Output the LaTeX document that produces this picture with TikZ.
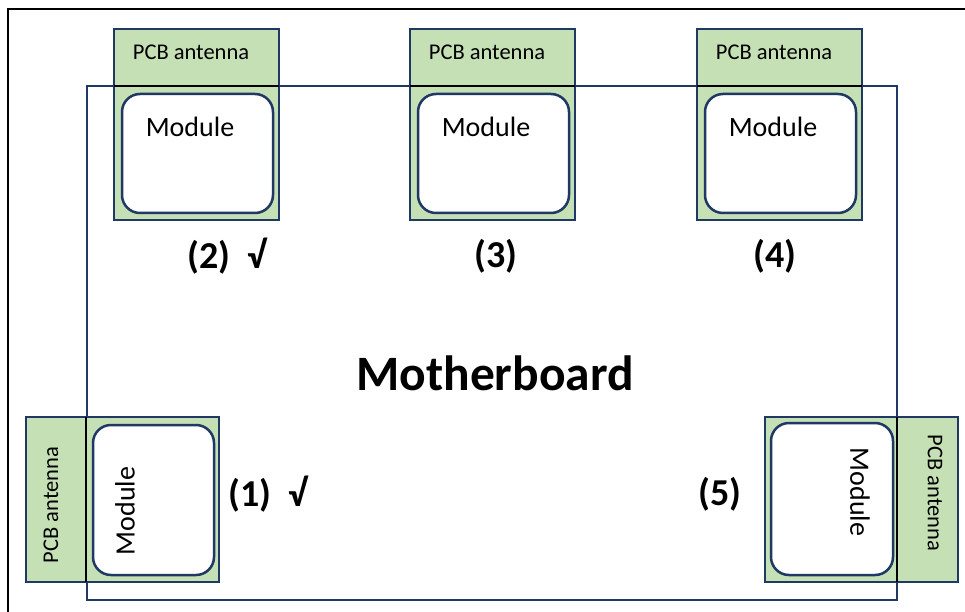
\documentclass[tikz,border=0pt]{standalone}
\usepackage{fontspec}
\setmainfont{Carlito}
\definecolor{antgreen}{HTML}{C5E0B4}
\definecolor{boardblue}{HTML}{1F3864}

\begin{document}
\begin{tikzpicture}[x=1pt,y=-1pt,
    antenna/.style={draw=boardblue,line width=2.5pt,fill=antgreen},
    modbox/.style={draw=boardblue,line width=2.5pt,fill=white,rounded corners=18pt},
    antlabel/.style={font=\fontsize{22.5}{25}\selectfont,inner sep=0pt},
    modlabel/.style={font=\fontsize{28}{32}\selectfont,inner sep=0pt},
    poslabel/.style={font=\bfseries\fontsize{38}{40}\selectfont,inner sep=0pt}]
    \useasboundingbox (0,0) rectangle (965,612);
    \draw[line width=2pt] (8,612) |- (965,9);
    % motherboard
    \draw[boardblue,line width=2.5pt] (87,86) rectangle (897,600);
    \node[font=\bfseries\fontsize{49.5}{52}\selectfont,inner sep=0pt] (board) at (495,373) {Motherboard};
    % modules on the top edge
    \foreach \x/\n/\lx/\lab in {114/2/227/{(2)\ \ √}, 410/3/496/{(3)}, 697/4/775/{(4)}}{
      \draw[antenna] (\x,29) rectangle (\x+165,220);
      \draw[modbox] (\x+8,94) rectangle (\x+159,213);
      \draw[line width=2.5pt] (\x,86) -- (\x+165,86);
      \node[antlabel] (pcb\n) at (\x+77,52) {PCB antenna};
      \node[modlabel] (mod\n) at (\x+76,127) {Module};
      \node[poslabel] (pos\n) at (\lx,256) {\lab};
    }
    % module on the left edge
    \draw[antenna] (26,417) rectangle (219,582);
    \draw[modbox] (93,425) rectangle (214,575);
    \draw[line width=2.5pt] (86,417) -- (86,582);
    \node[antlabel,rotate=90] (pcb1) at (51,505) {PCB antenna};
    \node[modlabel,rotate=90] (mod1) at (125,511) {Module};
    \node[poslabel] (pos1) at (268,494) {(1)\ \ √};
    % module on the right edge
    \draw[antenna] (765,417) rectangle (958,582);
    \draw[modbox] (771,423) rectangle (893,575);
    \draw[line width=2.5pt] (897,417) -- (897,582);
    \node[antlabel,rotate=-90] (pcb5) at (935,493) {PCB antenna};
    \node[modlabel,rotate=-90] (mod5) at (860,492) {Module};
    \node[poslabel] (pos5) at (720,494) {(5)};
\end{tikzpicture}
\end{document}
